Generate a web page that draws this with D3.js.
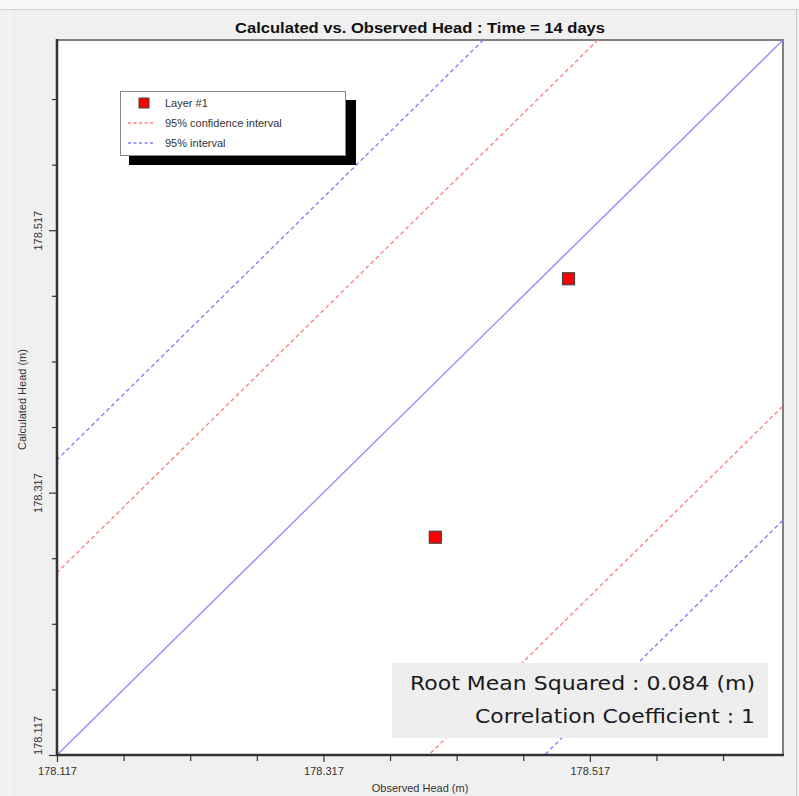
<!DOCTYPE html>
<html>
<head>
<meta charset="utf-8">
<script src="https://cdn.jsdelivr.net/npm/d3@7"></script>
<style>
  html, body { margin: 0; padding: 0; background: #f0f0f0; }
  svg { display: block; }
  text { font-family: "Liberation Sans", Arial, sans-serif; }
</style>
</head>
<body>
<svg id="chart" width="799" height="796"></svg>
<script>
// ---- data ----
const observed   = [178.401, 178.501];
const calculated = [178.283, 178.480];
const axisDomain = [178.117, 178.662];
const majorTicks = [178.117, 178.317, 178.517];
const minorTicks = [178.167, 178.217, 178.267, 178.367, 178.417, 178.467, 178.567, 178.617];
const confOffsets = [0.139, -0.279];   // 95% confidence interval (calc - obs)
const predOffsets = [0.225, -0.366];   // 95% interval
const legendLabels = ["Layer #1", "95% confidence interval", "95% interval"];
const statLines = ["Root Mean Squared : 0.084 (m)", "Correlation Coefficient : 1"];
const titleText = "Calculated vs. Observed Head : Time = 14 days";

// ---- layout ----
const L = 57, R = 783, T = 40, B = 755;
const svg = d3.select("#chart");

// frame background
svg.append("rect").attr("x",0).attr("y",0).attr("width",799).attr("height",796).attr("fill","#f0f0f0");
svg.append("rect").attr("x",0).attr("y",0).attr("width",799).attr("height",9).attr("fill","#f7f7f7");
svg.append("line").attr("x1",0).attr("x2",799).attr("y1",9.5).attr("y2",9.5).attr("stroke","#d4d4d4");
svg.append("line").attr("x1",9.5).attr("x2",9.5).attr("y1",10).attr("y2",796).attr("stroke","#f8f8f8");
svg.append("line").attr("x1",796.5).attr("x2",796.5).attr("y1",10).attr("y2",796).attr("stroke","#c8c8c8");

const x = d3.scaleLinear().domain(axisDomain).range([L, R]);
const y = d3.scaleLinear().domain(axisDomain).range([B, T]);

// plot area
svg.append("rect").attr("x",L).attr("y",T).attr("width",R-L).attr("height",B-T)
  .attr("fill","#ffffff").attr("stroke","#808080").attr("stroke-width",2);

svg.append("defs").append("clipPath").attr("id","clip")
  .append("rect").attr("x",L).attr("y",T).attr("width",R-L).attr("height",B-T);

const g = svg.append("g").attr("clip-path","url(#clip)");
const line = d3.line().x(d => x(d[0])).y(d => y(d[1]));
const diag = off => [[axisDomain[0]-1, axisDomain[0]-1+off],[axisDomain[1]+1, axisDomain[1]+1+off]];

// 1:1 line
g.append("path").attr("d", line(diag(0)))
  .attr("fill","none").attr("stroke","#8f8fff").attr("stroke-width",1.4);

confOffsets.forEach(off => {
  g.append("path").attr("d", line(diag(off)))
    .attr("fill","none").attr("stroke","#ff8080").attr("stroke-width",1.4).attr("stroke-dasharray","4,3");
});
predOffsets.forEach(off => {
  g.append("path").attr("d", line(diag(off)))
    .attr("fill","none").attr("stroke","#8080ff").attr("stroke-width",1.4).attr("stroke-dasharray","4,3");
});

// points
const pts = observed.map((o, i) => [o, calculated[i]]);
g.selectAll("rect.pt").data(pts).enter().append("rect").attr("class","pt")
  .attr("x", d => x(d[0]) - 6).attr("y", d => y(d[1]) - 6)
  .attr("width",12).attr("height",12)
  .attr("fill","#ff0000").attr("stroke","#444").attr("stroke-width",1.2);

// axes
const fmt = d3.format(".3f");
const xAxisMinor = d3.axisBottom(x).tickValues(minorTicks).tickSize(6).tickFormat("");
const xAxisMajor = d3.axisBottom(x).tickValues(majorTicks).tickSize(7).tickPadding(5).tickFormat(fmt);
const yAxisMinor = d3.axisLeft(y).tickValues(minorTicks).tickSize(5).tickFormat("");
const yAxisMajor = d3.axisLeft(y).tickValues(majorTicks).tickSize(8).tickFormat(fmt);

function styleAxis(sel) {
  sel.select(".domain").remove();
  sel.selectAll(".tick line").attr("stroke","#333").attr("stroke-width",1.2);
  sel.selectAll(".tick text").attr("fill","#333").style("font-size","11px")
    .style("font-family","'Liberation Sans', Arial, sans-serif");
}
svg.append("g").attr("transform",`translate(0,${B})`).call(xAxisMinor).call(styleAxis);
svg.append("g").attr("transform",`translate(0,${B})`).call(xAxisMajor).call(styleAxis);
svg.append("g").attr("transform",`translate(${L},0)`).call(yAxisMinor).call(styleAxis);
const yMaj = svg.append("g").attr("transform",`translate(${L},0)`).call(yAxisMajor).call(styleAxis);
yMaj.selectAll(".tick text")
  .attr("text-anchor","middle")
  .attr("x",0)
  .attr("transform", d => `translate(-19,${d === majorTicks[0] ? -20 : 0}) rotate(-90)`)
  .attr("y", 0).attr("dy","0.35em");

// axis lines (dark)
svg.append("line").attr("x1",L).attr("x2",L).attr("y1",T-1).attr("y2",B+1).attr("stroke","#333").attr("stroke-width",2.5);
svg.append("line").attr("x1",L-1).attr("x2",R+1).attr("y1",B).attr("y2",B).attr("stroke","#333").attr("stroke-width",2.5);

// axis titles
svg.append("text").attr("x",(L+R)/2).attr("y",792).attr("text-anchor","middle")
  .attr("fill","#333").style("font-size","11px").text("Observed Head (m)");
svg.append("text").attr("transform",`translate(26,${(T+B)/2 + 2}) rotate(-90)`).attr("text-anchor","middle")
  .attr("fill","#333").style("font-size","11px").text("Calculated Head (m)");

// title
svg.append("text").attr("x",(L+R)/2).attr("y",33).attr("text-anchor","middle")
  .attr("fill","#111").style("font-size","15px").style("font-weight","bold")
  .attr("textLength",370).attr("lengthAdjust","spacingAndGlyphs").text(titleText);

// legend
const lg = svg.append("g");
lg.append("rect").attr("x",129).attr("y",100).attr("width",227).attr("height",65).attr("fill","#000");
lg.append("rect").attr("x",120.5).attr("y",91.5).attr("width",225).attr("height",64)
  .attr("fill","#fff").attr("stroke","#888").attr("stroke-width",1);
const legendRows = [
  {type:"square", color:"#ff0000"},
  {type:"dash", color:"#ff8080"},
  {type:"dash", color:"#8080ff"}
];
legendRows.forEach((r, i) => {
  const cy = 103 + i * 20;
  if (r.type === "square") {
    lg.append("rect").attr("x",139).attr("y",cy-5).attr("width",10).attr("height",10)
      .attr("fill",r.color).attr("stroke","#444").attr("stroke-width",1);
  } else {
    lg.append("line").attr("x1",128).attr("x2",154).attr("y1",cy).attr("y2",cy)
      .attr("stroke",r.color).attr("stroke-width",1.3).attr("stroke-dasharray","3,2.5");
  }
  lg.append("text").attr("x",165).attr("y",cy+4).attr("fill","#333")
    .style("font-size","11px").text(legendLabels[i]);
});

// stats box
const statWidths = [345, 280];
svg.append("rect").attr("x",392).attr("y",663).attr("width",376).attr("height",75).attr("fill","#eeeeee");
statLines.forEach((s, i) => {
  svg.append("text").attr("x",755).attr("y",690 + i*33).attr("text-anchor","end")
    .attr("fill","#1a1a1a").style("font-size","20px")
    .style("font-family","'DejaVu Sans', Verdana, sans-serif")
    .attr("textLength", statWidths[i]).attr("lengthAdjust","spacingAndGlyphs")
    .text(s);
});
</script>
</body>
</html>
